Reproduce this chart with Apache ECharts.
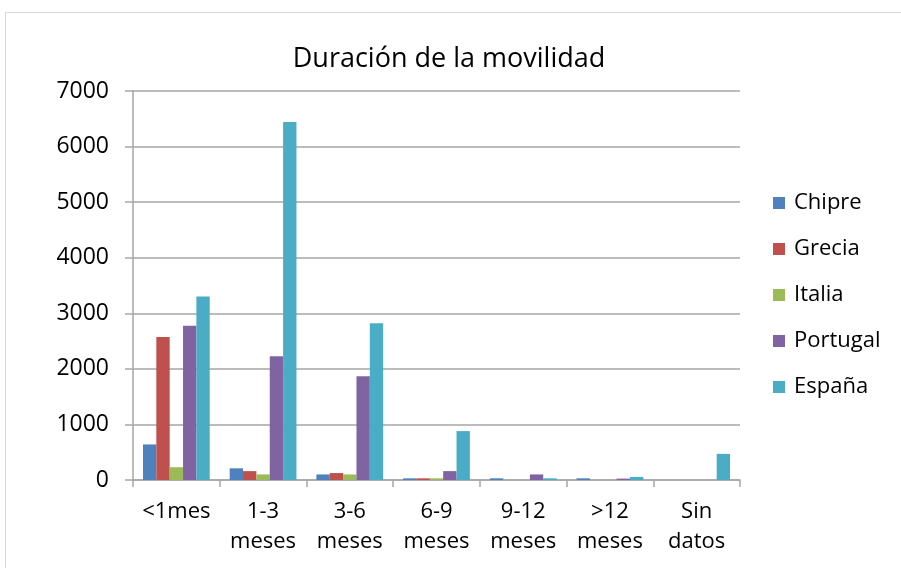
<!DOCTYPE html>
<html>
<head>
<meta charset="utf-8">
<script src="https://cdn.jsdelivr.net/npm/echarts@6/dist/echarts.min.js"></script>
<style>
html, body { margin: 0; padding: 0; background: #fff; }
#main { position: absolute; left: 5px; top: 12px; width: 896px; height: 556px; border: 1px solid #d9d9d9; border-right: none; border-bottom: none; box-sizing: border-box; }
</style>
</head>
<body>
<div id="main"></div>
<script>
var categories = ['<1mes', '1-3\nmeses', '3-6\nmeses', '6-9\nmeses', '9-12\nmeses', '>12\nmeses', 'Sin\ndatos'];
var chipre   = [640, 210, 100, 30, 30, 30, 0];
var grecia   = [2575, 160, 125, 30, 0, 0, 0];
var italia   = [230, 100, 100, 30, 0, 0, 0];
var portugal = [2775, 2225, 1865, 160, 100, 25, 0];
var espana   = [3300, 6440, 2820, 880, 30, 55, 470];
var colors = ['#4f81bd', '#c0504d', '#9bbb59', '#8064a2', '#4bacc6'];

var myChart = echarts.init(document.getElementById('main'));

function bar(name, data) {
    return {
        name: name,
        type: 'bar',
        data: data,
        barGap: '0%',
        barCategoryGap: '23%'
    };
}

var option = {
    color: colors,
    animation: false,
    textStyle: { fontFamily: 'Open Sans', color: '#000' },
    title: {
        text: 'Duración de la movilidad',
        left: 438,
        top: 28,
        textAlign: 'center',
        textStyle: { fontFamily: 'Open Sans', fontSize: 27, fontWeight: 'normal', color: '#000' }
    },
    legend: {
        orient: 'vertical',
        left: 762,
        top: 174,
        itemWidth: 12,
        itemHeight: 12,
        itemGap: 24,
        icon: 'rect',
        textStyle: { fontFamily: 'Open Sans', fontSize: 22, color: '#000', padding: [0, 0, 0, 4] }
    },
    grid: { left: 127, top: 78, width: 607, height: 389 },
    xAxis: {
        type: 'category',
        data: categories,
        axisLine: { lineStyle: { color: '#a6a6a6', width: 1.5 } },
        axisTick: { show: true, length: 7, lineStyle: { color: '#a6a6a6', width: 1.5 } },
        axisLabel: { color: '#000', fontSize: 22, lineHeight: 30, margin: 17, interval: 0 }
    },
    yAxis: {
        type: 'value',
        min: 0,
        max: 7000,
        interval: 1000,
        axisLine: { show: true, lineStyle: { color: '#a6a6a6', width: 1.5 } },
        axisTick: { show: true, length: 8, lineStyle: { color: '#a6a6a6', width: 1.5 } },
        splitLine: { lineStyle: { color: '#a6a6a6', width: 1.5 } },
        axisLabel: { color: '#000', fontSize: 23, margin: 24, formatter: function (v) { return String(v); } }
    },
    series: [
        bar('Chipre', chipre),
        bar('Grecia', grecia),
        bar('Italia', italia),
        bar('Portugal', portugal),
        bar('España', espana)
    ]
};

myChart.setOption(option);
</script>
</body>
</html>
